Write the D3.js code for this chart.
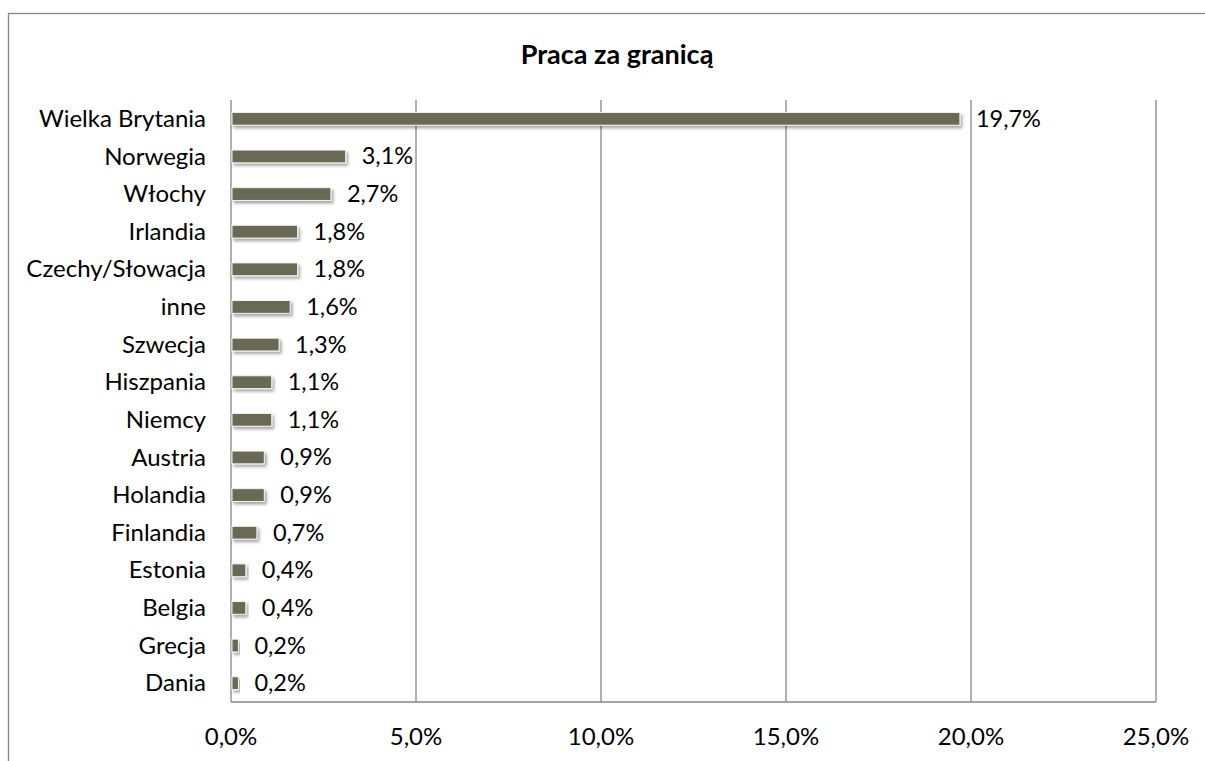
<!DOCTYPE html>
<html>
<head>
<meta charset="utf-8">
<script src="https://cdn.jsdelivr.net/npm/d3@7/dist/d3.min.js"></script>
<style>
  body { margin: 0; background: #fff; }
  svg { display: block; font-family: Lato, "Open Sans", sans-serif; }
  .grid line { stroke: #868686; stroke-width: 1.3; }
  .cat { font-size: 24px; fill: #000; }
  .tick-x { font-size: 24px; fill: #000; }
  .val { font-size: 23.5px; fill: #000; }
</style>
</head>
<body>
<svg id="chart" width="1205" height="761"></svg>
<script>
// ---------- Data ----------
const countries = ["Wielka Brytania", "Norwegia", "Włochy", "Irlandia", "Czechy/Słowacja", "inne",
  "Szwecja", "Hiszpania", "Niemcy", "Austria", "Holandia", "Finlandia", "Estonia", "Belgia", "Grecja", "Dania"];
const shares = [19.7, 3.1, 2.7, 1.8, 1.8, 1.6, 1.3, 1.1, 1.1, 0.9, 0.9, 0.7, 0.4, 0.4, 0.2, 0.2];
const xTicks = [0, 5, 10, 15, 20, 25];
const title = "Praca za granicą";

const fmt = v => v.toFixed(1).replace(".", ",") + "%";

// ---------- Layout ----------
const svg = d3.select("#chart");
const plot = { left: 231, right: 1156, top: 100, bottom: 702 };

// outer chart border
svg.append("rect")
  .attr("x", 8.5).attr("y", 13.5)
  .attr("width", 1205).attr("height", 761)
  .attr("fill", "none").attr("stroke", "#868686").attr("stroke-width", 1.3);

svg.append("text")
  .attr("x", 617).attr("y", 64)
  .attr("text-anchor", "middle")
  .style("font-size", "27px").style("font-weight", "bold")
  .text(title);

// ---------- Scales ----------
const x = d3.scaleLinear().domain([0, 25]).range([plot.left, plot.right]);
const y = d3.scaleBand().domain(countries).range([plot.top, plot.bottom]).paddingInner(0.66).paddingOuter(0.33);

// shadow filter for bars
const defs = svg.append("defs");
const f = defs.append("filter").attr("id", "shadow").attr("x", "-10%").attr("y", "-50%").attr("width", "130%").attr("height", "250%");
f.append("feDropShadow").attr("dx", 2).attr("dy", 2.5).attr("stdDeviation", 1.6)
  .attr("flood-color", "#000").attr("flood-opacity", 0.35);

// ---------- Grid ----------
svg.append("g").attr("class", "grid")
  .selectAll("line").data(xTicks).join("line")
  .attr("x1", d => x(d)).attr("x2", d => x(d))
  .attr("y1", plot.top).attr("y2", plot.bottom);

svg.append("line")
  .attr("x1", plot.left).attr("x2", plot.right)
  .attr("y1", plot.bottom).attr("y2", plot.bottom)
  .attr("stroke", "#868686").attr("stroke-width", 1.3);

// ---------- Bars ----------
svg.append("g").selectAll("rect").data(countries).join("rect")
  .attr("x", x(0) + 1)
  .attr("y", d => y(d))
  .attr("width", (d, i) => x(shares[i]) - x(0) - 1)
  .attr("height", y.bandwidth())
  .attr("fill", "#6b6954")
  .attr("stroke", "#f4f4ee").attr("stroke-width", 1)
  .attr("filter", "url(#shadow)");

// value labels
svg.append("g").selectAll("text").data(countries).join("text")
  .attr("class", "val")
  .attr("x", (d, i) => x(shares[i]) + 16)
  .attr("y", d => y(d) + y.bandwidth() / 2)
  .attr("dy", "0.34em")
  .text((d, i) => fmt(shares[i]));

// category labels
svg.append("g").selectAll("text").data(countries).join("text")
  .attr("class", "cat")
  .attr("x", 206)
  .attr("y", d => y(d) + y.bandwidth() / 2)
  .attr("dy", "0.34em")
  .attr("text-anchor", "end")
  .text(d => d);

// x tick labels
svg.append("g").selectAll("text").data(xTicks).join("text")
  .attr("class", "tick-x")
  .attr("x", d => x(d))
  .attr("y", 745)
  .attr("text-anchor", "middle")
  .text(d => fmt(d));
</script>
</body>
</html>
